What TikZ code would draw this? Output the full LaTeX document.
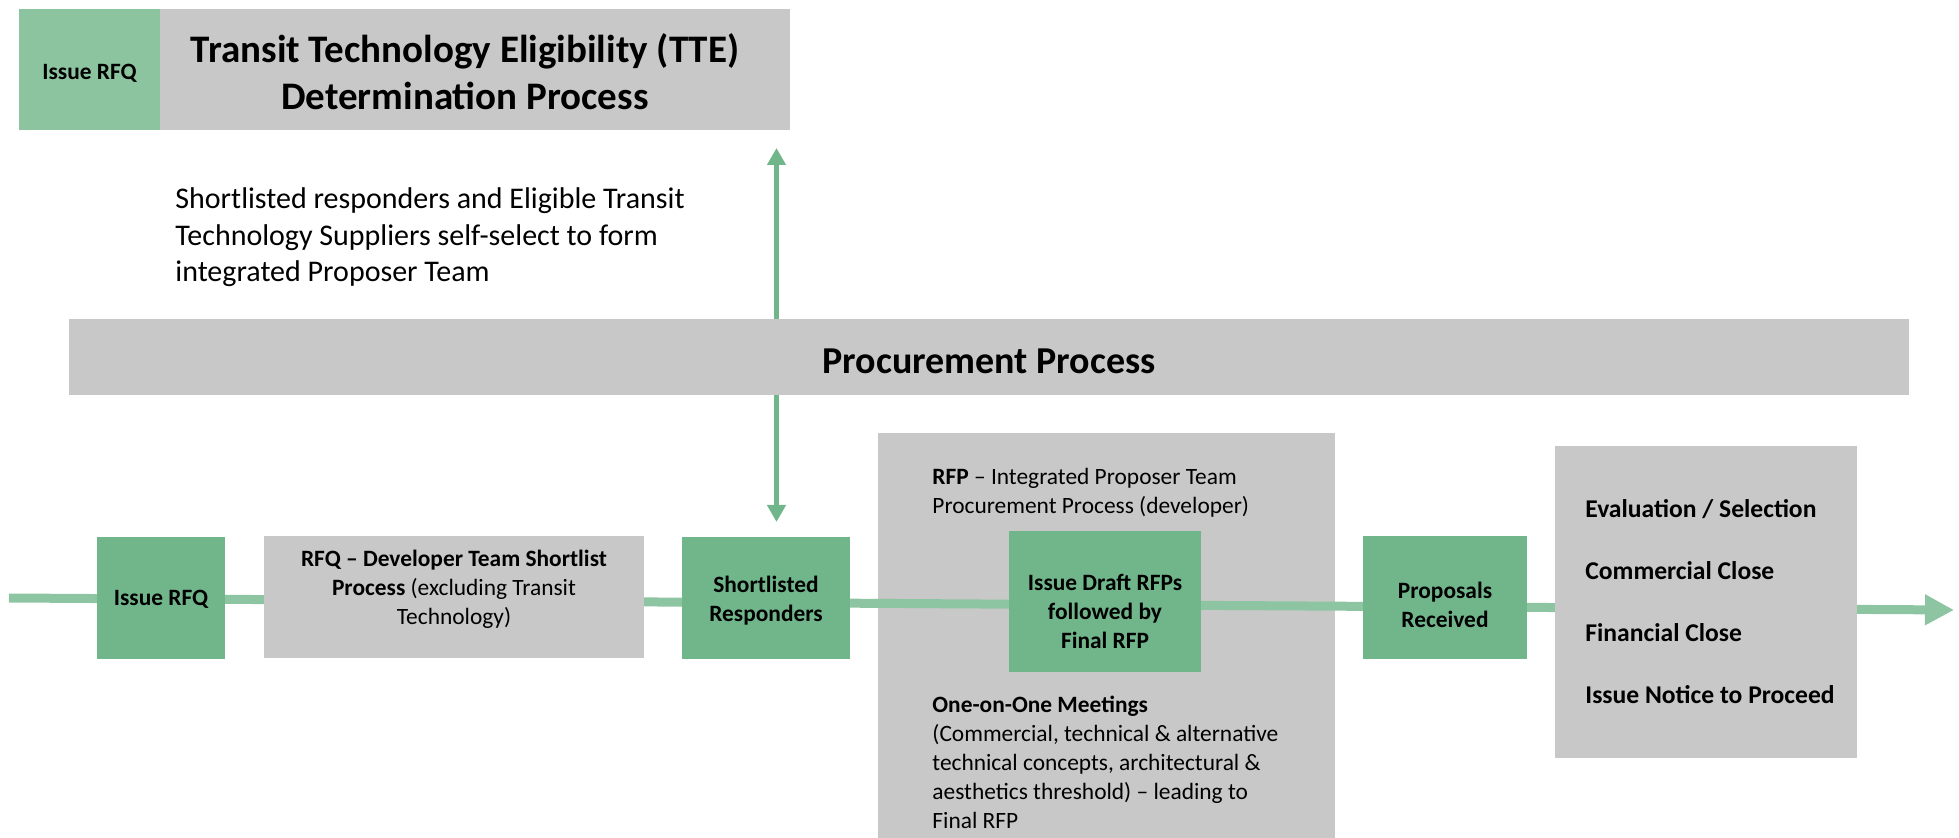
\documentclass[tikz,border=0pt]{standalone}
\usepackage{fontspec}
\setmainfont{Carlito}
\usetikzlibrary{arrows.meta}
\definecolor{gbox}{HTML}{70B68A}
\definecolor{gline}{HTML}{8DC5A3}
\definecolor{gtop}{HTML}{8CC4A0}
\definecolor{grayb}{HTML}{C8C8C8}
\begin{document}
\begin{tikzpicture}[x=0.5pt,y=-0.5pt,
  box/.style={rectangle, inner sep=0pt, align=center, text=black},
  greenbox/.style={box, fill=gbox},
  graybox/.style={box, fill=grayb},
  lbl/.style={inner sep=0pt, align=center, text=black, font=\fontsize{11.7}{14.5}\selectfont\bfseries},
  lblreg/.style={lbl, font=\fontsize{11.7}{14.5}\selectfont},
  bodytext/.style={inner sep=0pt, anchor=west, align=left, text=black},
  mainline/.style={draw=gline, line width=4.5pt, -{Triangle[length=14.5pt,width=14.5pt]}},
  varrow/.style={draw=gbox, line width=2.5pt, -{Triangle[length=8.5pt,width=9pt]}}
]
\useasboundingbox (0,0) rectangle (1959,838);

% top band
\node[box, fill=gtop, minimum width=70.5pt, minimum height=60.5pt,
  label={[lbl, yshift=-2pt]center:Issue RFQ}] (tissue) at (89.5,69.5) {};
\node[box, fill=grayb, minimum width=315pt, minimum height=60.5pt,
  label={[lbl, font=\fontsize{19.5}{23.5}\selectfont\bfseries, xshift=-5pt, yshift=-1pt]center:{Transit Technology Eligibility (TTE)\\Determination Process}}] (tte) at (475,69.5) {};

\node[bodytext, font=\fontsize{15}{18.25}\selectfont] (note) at (175,237.5)
  {Shortlisted responders and Eligible Transit\\Technology Suppliers self-select to form\\integrated Proposer Team};

% procurement band
\node[box, fill=grayb, minimum width=920pt, minimum height=38pt,
  label={[lbl, font=\fontsize{19}{23}\selectfont\bfseries, yshift=-2pt]center:Procurement Process}] (proc) at (989,357) {};

% big RFP box (behind the line)
\node[box, fill=grayb, minimum width=228.5pt, minimum height=202.5pt] (rfp) at (1106.5,635.5) {};
\node[bodytext, font=\fontsize{11.7}{14.5}\selectfont] (rfptxt) at (932,493)
  {\textbf{RFP} – Integrated Proposer Team\\Procurement Process (developer)};
\node[bodytext, font=\fontsize{11.7}{14.5}\selectfont] (meet) at (932,762.5)
  {\textbf{One-on-One Meetings}\\(Commercial, technical \& alternative\\technical concepts, architectural \&\\aesthetics threshold) – leading to\\Final RFP};

% main flow line
\coordinate (lstart) at (9,598);
\coordinate (lend) at (1954,610);
\draw[mainline] (lstart) -- (lend);

% flow boxes
\node[greenbox, minimum width=64pt, minimum height=61pt,
  label={[lbl, yshift=-0.5pt]center:Issue RFQ}] (issue) at (161,598) {};
\node[graybox, minimum width=190pt, minimum height=61pt,
  label={[lblreg, yshift=4pt]center:{\textbf{RFQ – Developer Team Shortlist}\\\textbf{Process} (excluding Transit\\Technology)}}] (rfq) at (454,597) {};
\node[greenbox, minimum width=84pt, minimum height=61pt,
  label={[lbl, yshift=-1.5pt]center:{Shortlisted\\Responders}}] (short) at (766,598) {};
\node[greenbox, minimum width=96pt, minimum height=70.5pt,
  label={[lbl, yshift=-5pt]center:{Issue Draft RFPs\\followed by\\Final RFP}}] (draft) at (1105,601.5) {};
\node[greenbox, minimum width=82pt, minimum height=61.5pt,
  label={[lbl, yshift=-3.75pt]center:{Proposals\\Received}}] (prop) at (1445,597.5) {};
\node[graybox, minimum width=151pt, minimum height=156pt] (final) at (1706,602) {};
\node[bodytext, font=\fontsize{12.8}{31}\selectfont\bfseries] (finaltxt) at (1585,601.5)
  {Evaluation / Selection\\Commercial Close\\Financial Close\\Issue Notice to Proceed};

% vertical arrows
\coordinate (upT) at (776.5,148);
\coordinate (dnT) at (776.5,522);
\draw[varrow] (proc.north -| upT) -- (upT);
\draw[varrow] (proc.south -| dnT) -- (dnT);
\end{tikzpicture}
\end{document}
